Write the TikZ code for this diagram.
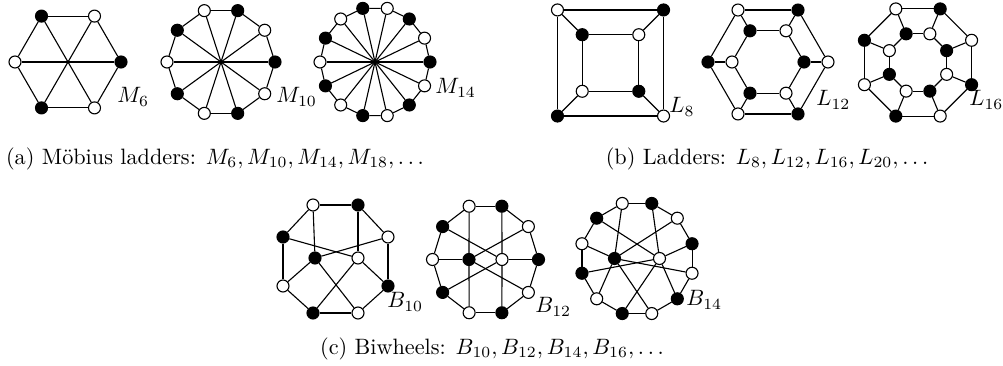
\documentclass[tikz,border=0pt]{standalone}
\begin{document}
\begin{tikzpicture}[x=0.45pt,y=-0.45pt,
  vb/.style={circle,draw,fill=black,minimum size=5.4pt,inner sep=0pt,line width=0.5pt},
  vw/.style={vb,fill=white},
  edge/.style={line width=0.5pt},
  lab/.style={anchor=west,inner sep=0pt},
  captxt/.style={inner sep=0pt}]
\useasboundingbox (0,0) rectangle (1003,366);

% ---------- Mobius ladders: #1 n, #2 cx, #3 cy, #4 r
\newcommand\mobgraph[4]{%
  \foreach \k in {1,...,#1} {%
    \pgfmathsetmacro\a{(\k-1)*360/#1}%
    \ifodd\k\def\st{vb}\else\def\st{vw}\fi
    \node[\st] (m#1-\k) at ({#2+#4*cos(\a)},{#3-#4*sin(\a)}) {};
  }
  \foreach \k in {1,...,#1} {%
    \pgfmathtruncatemacro\j{mod(\k,#1)+1}%
    \draw[edge] (m#1-\k) -- (m#1-\j);
  }
  \pgfmathtruncatemacro\h{#1/2}%
  \foreach \k in {1,...,\h} {%
    \pgfmathtruncatemacro\j{\k+\h}%
    \draw[edge] (m#1-\k) -- (m#1-\j);
  }
}
\mobgraph{6}{68}{62}{53}
\mobgraph{10}{221}{62}{54}
\mobgraph{14}{375}{62}{55}
\node[lab] (lm6) at (117,97) {$M_6$};
\node[lab] (lm10) at (276,97) {$M_{10}$};
\node[lab] (lm14) at (435,88) {$M_{14}$};

% ---------- Ladders: #1 name, #2 n per cycle, #3 cx, #4 cy, #5 rout, #6 rin, #7 start angle, #8 outer odd style, #9 outer even style
\newcommand\laddergraph[9]{%
  \foreach \k in {1,...,#2} {%
    \pgfmathsetmacro\a{#7+(\k-1)*360/#2}%
    \ifodd\k\def\st{#8}\def\sti{#9}\else\def\st{#9}\def\sti{#8}\fi
    \node[\st] (#1o\k) at ({#3+#5*cos(\a)},{#4-#5*sin(\a)}) {};
    \node[\sti] (#1i\k) at ({#3+#6*cos(\a)},{#4-#6*sin(\a)}) {};
  }
  \foreach \k in {1,...,#2} {%
    \pgfmathtruncatemacro\j{mod(\k,#2)+1}%
    \draw[edge] (#1o\k) -- (#1o\j);
    \draw[edge] (#1i\k) -- (#1i\j);
    \draw[edge] (#1o\k) -- (#1i\k);
  }
}
\laddergraph{la}{4}{610.5}{63}{75}{40}{45}{vb}{vw}
\laddergraph{lb}{6}{768}{62}{60}{36}{0}{vw}{vb}
\laddergraph{lc}{8}{918}{62.5}{58}{31}{22.5}{vw}{vb}
\node[lab] (ll8) at (669,107) {$L_8$};
\node[lab] (ll12) at (816,100) {$L_{12}$};
\node[lab] (ll16) at (969,100) {$L_{16}$};

% ---------- Biwheel B10 (explicit positions)
\node[vw] (bav1) at (388,237) {};
\node[vb] (bav2) at (358,205) {};
\node[vw] (bav3) at (313,205) {};
\node[vb] (bav4) at (283,237) {};
\node[vw] (bav5) at (283,286) {};
\node[vb] (bav6) at (313,313) {};
\node[vw] (bav7) at (358,313) {};
\node[vb] (bav8) at (388,286) {};
\node[vb] (bahb) at (315,258) {};
\node[vw] (bahw) at (358,258) {};
\foreach \k in {1,...,8} {%
  \pgfmathtruncatemacro\j{mod(\k,8)+1}%
  \draw[edge] (bav\k) -- (bav\j);
  \ifodd\k \draw[edge] (bav\k) -- (bahb); \else \draw[edge] (bav\k) -- (bahw); \fi
}

% ---------- Biwheels: #1 name, #2 n, #3 cx, #4 cy, #5 rx, #6 ry, #7 start angle, #8 hub dx
\newcommand\bwheel[8]{%
  \foreach \k in {1,...,#2} {%
    \pgfmathsetmacro\a{#7+(\k-1)*360/#2}%
    \ifodd\k\def\st{vb}\else\def\st{vw}\fi
    \node[\st] (#1v\k) at ({#3+#5*cos(\a)},{#4-#6*sin(\a)}) {};
  }
  \node[vb] (#1hb) at ({#3-#8},#4) {};
  \node[vw] (#1hw) at ({#3+#8},#4) {};
  \foreach \k in {1,...,#2} {%
    \pgfmathtruncatemacro\j{mod(\k,#2)+1}%
    \draw[edge] (#1v\k) -- (#1v\j);
    \ifodd\k
      \draw[edge] (#1v\k) -- (#1hw);
    \else
      \draw[edge] (#1v\k) -- (#1hb);
    \fi
  }
}
\bwheel{bb}{10}{485.5}{259.5}{53}{56}{0}{16.5}
\bwheel{bc}{12}{637}{258.5}{57}{57}{15}{22.5}
\node[lab] (lb10) at (387,302) {$B_{10}$};
\node[lab] (lb12) at (535,307) {$B_{12}$};
\node[lab] (lb14) at (686,300) {$B_{14}$};

% ---------- captions
\node[captxt] (capa) at (215,159) {(a) M\"obius ladders: $M_6, M_{10}, M_{14}, M_{18}, \ldots$};
\node[captxt] (capb) at (767,159) {(b) Ladders: $L_8, L_{12}, L_{16}, L_{20}, \ldots$};
\node[captxt] (capc) at (492,349) {(c) Biwheels: $B_{10}, B_{12}, B_{14}, B_{16}, \ldots$};
\end{tikzpicture}
\end{document}
